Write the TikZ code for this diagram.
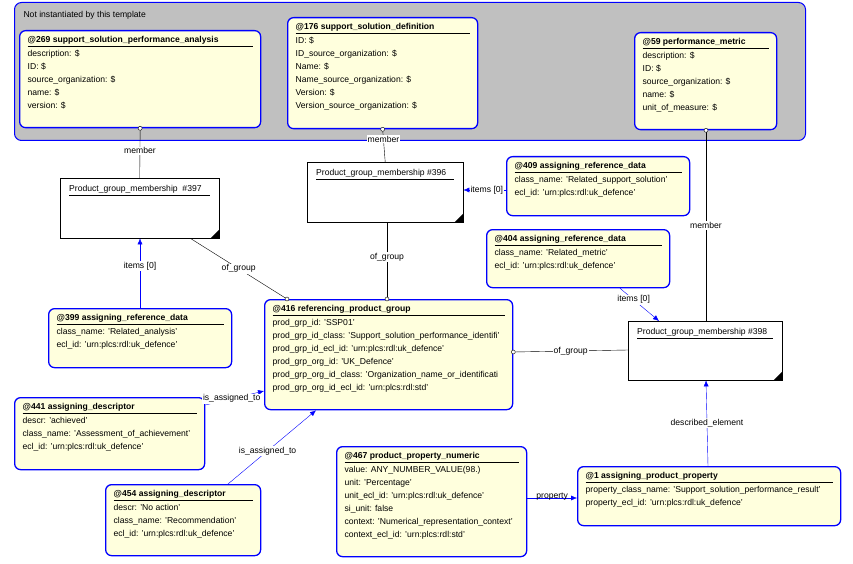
\documentclass[tikz,border=0pt]{standalone}
\usepackage{fontspec}
\setmainfont{Liberation Sans}
\usetikzlibrary{arrows.meta}
\definecolor{entfill}{RGB}{255,255,221}
\definecolor{tplgrey}{RGB}{192,192,192}
\newcommand\entbody[4]{\parbox[c][#2pt][t]{#1pt}{\raggedright\vspace{6pt}\textbf{#3}\par\vspace{1.5pt}\hrule height 0.8pt\vspace{3pt}#4}}
\tikzset{
  ent/.style={draw=blue,line width=1.3pt,fill=entfill,rounded corners=6pt,
    anchor=north west,inner xsep=8pt,inner ysep=0pt,font=\fontsize{8.6}{13}\selectfont},
  pgm/.style={draw=black,fill=white,anchor=north west,inner xsep=9pt,inner ysep=0pt,
    font=\fontsize{8.6}{13}\selectfont},
  lab/.style={fill=white,inner sep=1pt,font=\fontsize{8.6}{10}\selectfont},
  rel/.style={draw=black},
  ref/.style={draw=blue,-{Latex[length=6pt,width=5pt]}},
  hole/.style={circle,draw=black,fill=white,inner sep=0pt,minimum size=4pt}
}
\newcommand\pgmbody[3]{\parbox[c][#2pt][t]{#1pt}{\vspace{7pt}#3\par\vspace{1.5pt}\hrule height 0.6pt}}
\newcommand\cutline[1]{\makebox[\linewidth][l]{#1}}
\begin{document}
\begin{tikzpicture}[x=1pt,y=-1pt]
  \useasboundingbox (0,0) rectangle (853,564);
  \fill[white] (0,0) rectangle (853,564);

  % template area
  \node (tpl) [draw=blue,line width=1pt,fill=tplgrey,rounded corners=7pt,anchor=north west,
    minimum width=791pt,minimum height=138pt] at (14,2) {};
  \node (tpltext) [anchor=west,font=\fontsize{8.6}{10}\selectfont] at (20,15) {Not instantiated by this template};

  % entities in the template
  \node (n269) [ent] at (19,30) {\entbody{225}{97}{@269 support\_solution\_performance\_analysis}
    {description: \$\\ID: \$\\source\_organization: \$\\name: \$\\version: \$}};
  \node (n176) [ent] at (287,17) {\entbody{174}{111}{@176 support\_solution\_definition}
    {ID: \$\\ID\_source\_organization: \$\\Name: \$\\Name\_source\_organization: \$\\Version: \$\\Version\_source\_organization: \$}};
  \node (n59) [ent] at (634,32) {\entbody{126}{97}{@59 performance\_metric}
    {description: \$\\ID: \$\\source\_organization: \$\\name: \$\\unit\_of\_measure: \$}};

  % memberships
  \node (m397) [pgm] at (60,178) {\pgmbody{141}{60}{Product\_group\_membership~~\#397}};
  \node (m396) [pgm] at (307,162) {\pgmbody{138}{60}{Product\_group\_membership \#396}};
  \node (m398) [pgm] at (628,321) {\pgmbody{136}{59}{Product\_group\_membership \#398}};
  \foreach \m in {m397,m396,m398}
    \fill (\m.south east) -- ++(0,-9) -- ++(-9,9) -- cycle;

  % other entities
  \node (n409) [ent] at (506,156) {\entbody{167}{59}{@409 assigning\_reference\_data}
    {class\_name: 'Related\_support\_solution'\\ecl\_id: 'urn:plcs:rdl:uk\_defence'}};
  \node (n404) [ent] at (486,229) {\entbody{167}{58}{@404 assigning\_reference\_data}
    {class\_name: 'Related\_metric'\\ecl\_id: 'urn:plcs:rdl:uk\_defence'}};
  \node (n399) [ent] at (48,308) {\entbody{167}{59}{@399 assigning\_reference\_data}
    {class\_name: 'Related\_analysis'\\ecl\_id: 'urn:plcs:rdl:uk\_defence'}};
  \node (n416) [ent] at (264,299) {\entbody{232}{110}{@416 referencing\_product\_group}
    {prod\_grp\_id: 'SSP01'\\\cutline{prod\_grp\_id\_class: 'Support\_solution\_performance\_identifi'}\\prod\_grp\_id\_ecl\_id: 'urn:plcs:rdl:uk\_defence'\\prod\_grp\_org\_id: 'UK\_Defence'\\\cutline{prod\_grp\_org\_id\_class: 'Organization\_name\_or\_identificati}\\prod\_grp\_org\_id\_ecl\_id: 'urn:plcs:rdl:std'}};
  \node (n441) [ent] at (14,397) {\entbody{174}{72}{@441 assigning\_descriptor}
    {descr: 'achieved'\\class\_name: 'Assessment\_of\_achievement'\\ecl\_id: 'urn:plcs:rdl:uk\_defence'}};
  \node (n454) [ent] at (105,484) {\entbody{139}{71}{@454 assigning\_descriptor}
    {descr: 'No action'\\class\_name: 'Recommendation'\\ecl\_id: 'urn:plcs:rdl:uk\_defence'}};
  \node (n467) [ent] at (336,446) {\entbody{174}{110}{@467 product\_property\_numeric}
    {value: ANY\_NUMBER\_VALUE(98.)\\unit: 'Percentage'\\unit\_ecl\_id: 'urn:plcs:rdl:uk\_defence'\\si\_unit: false\\context: 'Numerical\_representation\_context'\\context\_ecl\_id: 'urn:plcs:rdl:std'}};
  \node (n1) [ent] at (577,466) {\entbody{247}{59}{@1 assigning\_product\_property}
    {property\_class\_name: 'Support\_solution\_performance\_result'\\property\_ecl\_id: 'urn:plcs:rdl:uk\_defence'}};

  % member links
  \draw[rel] (n269.south) -- node[lab,pos=0.45] {member} (m397.north);
  \node[hole] at (n269.south) {};
  \draw[rel] (n176.south) -- node[lab,pos=0.3] {member} (m396.north);
  \node[hole] at (n176.south) {};
  \draw[rel] (n59.south -| 706,0) coordinate (c59) -- node[lab,pos=0.5] {member} (m398.north -| c59);
  \node[hole] at (c59) {};

  % of_group links
  \draw[rel] ([xshift=-29pt]m397.south east) -- node[lab,pos=0.5] {of\_group} ([xshift=23pt]n416.north west);
  \node[hole] at ([xshift=23pt]n416.north west) {};
  \draw[rel] (m396.south -| 387,0) -- node[lab,pos=0.45] {of\_group} (n416.north -| 387,0);
  \node[hole] at (n416.north -| 387,0) {};
  \draw[rel] (n416.east |- 0,352) -- node[lab,pos=0.5] {of\_group} (m398.west |- 0,350);
  \node[hole] at (n416.east |- 0,352) {};

  % references
  \draw[ref] (n399.north -| 140,0) -- node[lab,pos=0.6] {items [0]} (m397.south -| 140,0);
  \draw[ref] (n409.west |- 0,190) -- node[lab,pos=0.45] {items [0]} (m396.east |- 0,190);
  \draw[ref] (n404.south -| 620,0) -- node[lab,pos=0.35] {items [0]} (m398.north -| 659,0);
  \draw[ref] (n441.north east) ++(0,8) coordinate (c441) -- node[lab,pos=0.45] {is\_assigned\_to} (n416.west |- 0,391);
  \draw[ref] (n454.north -| 228,0) -- node[lab,pos=0.45] {is\_assigned\_to} (n416.south -| 316,0);
  \draw[ref] (n1.north -| 708,0) -- node[lab,pos=0.5] {described\_element} (m398.south -| 706,0);
  \draw[ref] (n467.east |- 0,498) -- node[lab,pos=0.5,above=-3pt,fill=none] {property} (n1.west |- 0,498);
\end{tikzpicture}
\end{document}
